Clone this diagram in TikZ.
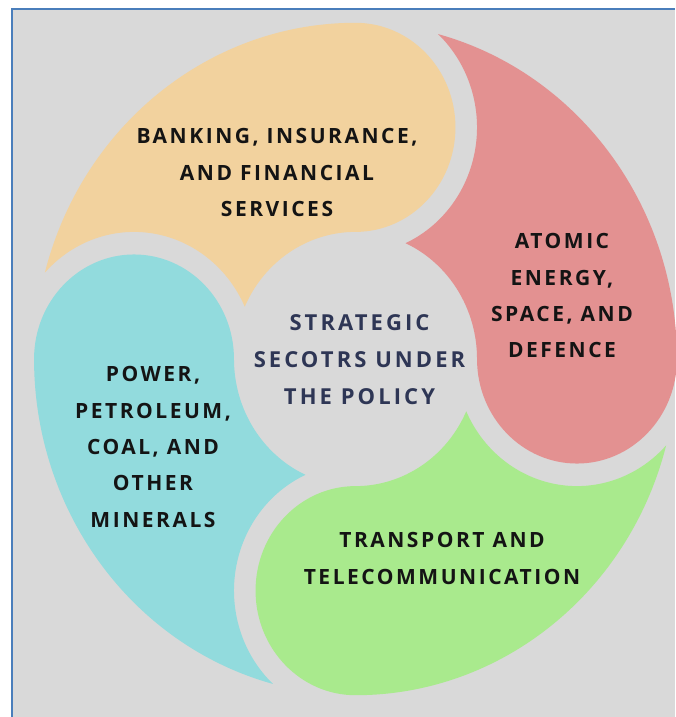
\documentclass[tikz,border=0pt]{standalone}
\usepackage{fontspec}
\setmainfont{Open Sans}
\newfontfamily\labfont[LetterSpace=12]{Open Sans}
\newfontfamily\ctrfont[LetterSpace=14]{Open Sans}
\definecolor{bggrey}{HTML}{D9D9D9}
\definecolor{frameblue}{HTML}{4A7EBB}
\definecolor{cOrange}{HTML}{F2D29E}
\definecolor{cRed}{HTML}{E39191}
\definecolor{cGreen}{HTML}{A9EA8D}
\definecolor{cBlue}{HTML}{92DBDD}
\definecolor{labdark}{HTML}{141414}
\definecolor{labnavy}{HTML}{2E3655}
\begin{document}
\begin{tikzpicture}[x=1pt,y=-1pt,
  petalpath/.style={insert path={(-317,-84.23) arc[start angle=194.88, end angle=270, radius=328]
      arc[start angle=270, end angle=450, radius=102]
      arc[start angle=270, end angle=204.32, radius=124]
      arc[start angle=-24.32, end angle=-137.21, radius=124] -- cycle}},
  lab/.style={font=\labfont\bfseries\fontsize{21}{36.3}\selectfont, align=center, inner sep=0pt, anchor=north, text=labdark},
  ctr/.style={font=\ctrfont\bfseries\fontsize{22}{37}\selectfont, align=center, inner sep=0pt, anchor=north, text=labnavy}]
\useasboundingbox (0,0) rectangle (675,717);
\fill[white] (0,0) rectangle (675,717);
\fill[bggrey] (12,9) rectangle (675,717);
\draw[frameblue, line width=2.2pt] (12,717) -- (12,9) -- (675,9);
\begin{scope}[shift={(355.5,359)}, xscale=0.98, yscale=1.025]
  \fill[cOrange, petalpath];
  \fill[cRed, rotate=-90, petalpath];
  \fill[cGreen, rotate=180, petalpath];
  \fill[cBlue, rotate=90, petalpath];
\end{scope}
\node[lab] (banking) at (277,128.5) {BANKING, INSURANCE,\\AND FINANCIAL\\SERVICES};
\node[lab] (atomic) at (562,233.5) {ATOMIC\\ENERGY,\\SPACE, AND\\DEFENCE};
\node[lab] (transport) at (442,532.5) {TRANSPORT AND\\TELECOMMUNICATION};
\node[lab] (power) at (153,366.5) {POWER,\\PETROLEUM,\\COAL, AND\\OTHER\\MINERALS};
\node[ctr] (centre) at (359.5,314.1) {STRATEGIC\\SECOTRS UNDER\\THE POLICY};
\end{tikzpicture}
\end{document}
